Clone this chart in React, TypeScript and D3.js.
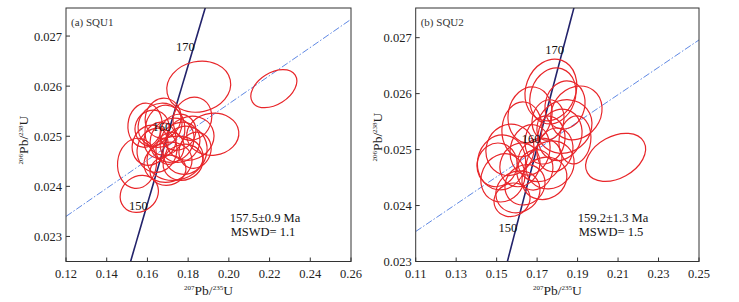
import * as d3 from "d3";

// decay constants (per year)
const L238 = 1.55125e-10;
const L235 = 9.8485e-10;

// analyses: [207Pb/235U, 206Pb/238U, sx, sy, rho]
const squ1Spots = [
  [0.1852, 0.02599, 0.0157, 0.00051, 0.1],
  [0.2221, 0.02595, 0.0113, 0.00038, 0.4],
  [0.156, 0.02385, 0.0094, 0.00037, 0.15],
  [0.1549, 0.02446, 0.0096, 0.0005, 0.05],
  [0.1921, 0.02504, 0.0128, 0.00042, 0.05],
  [0.1821, 0.02535, 0.0095, 0.00043, 0.1],
  [0.1662, 0.02522, 0.0108, 0.00044, 0.1],
  [0.1686, 0.02512, 0.0098, 0.0005, 0.05],
  [0.1721, 0.02492, 0.0108, 0.00044, 0.1],
  [0.176, 0.02488, 0.0098, 0.0004, 0.1],
  [0.1647, 0.02472, 0.0098, 0.00044, 0.05],
  [0.1736, 0.02456, 0.0138, 0.00044, 0.08],
  [0.1701, 0.02448, 0.0118, 0.0004, 0.1],
  [0.1785, 0.02472, 0.0108, 0.00048, 0.05],
  [0.1613, 0.02482, 0.0088, 0.0004, 0.1],
  [0.1809, 0.02496, 0.0118, 0.00044, 0.1],
  [0.1677, 0.02536, 0.0088, 0.0004, 0.05],
  [0.175, 0.02508, 0.0088, 0.00036, 0.1],
  [0.1662, 0.02492, 0.0079, 0.00036, 0.05],
  [0.1775, 0.02448, 0.0098, 0.00036, 0.1],
  [0.1711, 0.02476, 0.0069, 0.00032, 0.1],
  [0.1834, 0.02472, 0.0079, 0.00036, 0.1],
  [0.1623, 0.02516, 0.0084, 0.00036, 0.05],
  [0.1701, 0.02432, 0.0088, 0.0003, 0.1],
  [0.1588, 0.02522, 0.0084, 0.00044, 0.05],
];

const squ2Spots = [
  [0.1768, 0.026066, 0.0128, 0.00055, 0.15],
  [0.1778, 0.025959, 0.0114, 0.0005, 0.15],
  [0.2088, 0.024861, 0.0148, 0.00043, 0.35],
  [0.1524, 0.024771, 0.0119, 0.00049, 0.05],
  [0.1894, 0.025655, 0.0127, 0.00048, 0.15],
  [0.1835, 0.025411, 0.0136, 0.00048, 0.1],
  [0.1625, 0.025361, 0.0099, 0.00049, 0.05],
  [0.1605, 0.024245, 0.0109, 0.000375, 0.1],
  [0.1531, 0.024495, 0.0109, 0.00043, 0.1],
  [0.1736, 0.024486, 0.0111, 0.00038, 0.1],
  [0.1714, 0.024816, 0.0109, 0.00039, 0.1],
  [0.1739, 0.025173, 0.0099, 0.00043, 0.1],
  [0.1665, 0.024995, 0.0099, 0.00045, 0.1],
  [0.1788, 0.024995, 0.0089, 0.00039, 0.1],
  [0.1615, 0.024727, 0.0099, 0.00039, 0.1],
  [0.1813, 0.025263, 0.0109, 0.00046, 0.1],
  [0.1689, 0.024638, 0.0089, 0.00036, 0.1],
  [0.1754, 0.02553, 0.0079, 0.00036, 0.1],
  [0.1576, 0.024102, 0.0089, 0.0003, 0.1],
  [0.1502, 0.024727, 0.0099, 0.00039, 0.05],
  [0.1665, 0.02562, 0.0109, 0.0005, 0.1],
  [0.1838, 0.025798, 0.0099, 0.00043, 0.1],
  [0.1566, 0.024995, 0.0119, 0.00046, 0.05],
  [0.1764, 0.024727, 0.0119, 0.00043, 0.1],
  [0.164, 0.02437, 0.0099, 0.00036, 0.1],
  [0.1887, 0.025173, 0.0079, 0.00043, 0.1],
];

// discordia end points
const squ1Line = [[0.12, 0.0234], [0.26, 0.027334]];
const squ2Line = [[0.11, 0.023536], [0.25, 0.026959]];

const ageLabels = [150, 160, 170];
const squ1XTicks = [0.12, 0.14, 0.16, 0.18, 0.2, 0.22, 0.24, 0.26];
const squ2XTicks = [0.11, 0.13, 0.15, 0.17, 0.19, 0.21, 0.23, 0.25];
const yTicks = [0.023, 0.024, 0.025, 0.026, 0.027];

const font = "'Liberation Serif', 'Times New Roman', serif";

const conc = (t: number) => [Math.exp(L235 * t * 1e6) - 1, Math.exp(L238 * t * 1e6) - 1];

function Panel({ id, spots, line, xTicks, xDom, yDom, left, right, title, age, mswd, yTitleX, yTitleY }: any) {
  const top = 8;
  const bottom = 261.5;
  const x = d3.scaleLinear().domain(xDom).range([left, right]);
  const y = d3.scaleLinear().domain(yDom).range([bottom, top]);
  const kx = (right - left) / (xDom[1] - xDom[0]);
  const ky = (bottom - top) / (yDom[1] - yDom[0]);

  const ages = d3.range(130, 190, 0.5);
  const curve = d3
    .line<number>()
    .x((t) => x(conc(t)[0]))
    .y((t) => y(conc(t)[1]))(ages);

  const ellipses = spots.map((s: number[]) => {
    const a = kx * s[2];
    const b = ky * s[3];
    const c = -s[4] * a * b;
    const th = 0.5 * Math.atan2(2 * c, a * a - b * b);
    const m = (a * a + b * b) / 2;
    const r = Math.sqrt(((a * a - b * b) / 2) ** 2 + c * c);
    return { cx: x(s[0]), cy: y(s[1]), rx: Math.sqrt(m + r), ry: Math.sqrt(m - r), deg: (th * 180) / Math.PI };
  });

  const midX = (left + right) / 2;
  const yTickList = yTicks.filter((v) => v >= yDom[0] - 1e-9);

  return (
    <g fontFamily={font}>
      <defs>
        <clipPath id={id}>
          <rect x={left} y={top} width={right - left} height={bottom - top} />
        </clipPath>
      </defs>
      <g clipPath={`url(#${id})`}>
        <line
          x1={x(line[0][0])}
          y1={y(line[0][1])}
          x2={x(line[1][0])}
          y2={y(line[1][1])}
          stroke="#4d7ae0"
          strokeWidth={0.9}
          strokeDasharray="7,2,1.5,2"
        />
        <path d={curve || ""} fill="none" stroke="#23236b" strokeWidth={1.6} />
        {ellipses.map((e: any, i: number) => (
          <ellipse
            key={i}
            cx={e.cx}
            cy={e.cy}
            rx={e.rx}
            ry={e.ry}
            transform={`rotate(${e.deg},${e.cx},${e.cy})`}
            fill="none"
            stroke="#e8262a"
            strokeWidth={1.2}
          />
        ))}
      </g>
      {ageLabels.map((t) => (
        <text key={t} x={x(conc(t)[0]) + 2} y={y(conc(t)[1]) + 1} textAnchor="end" fontSize={12.5} fill="#111">
          {t}
        </text>
      ))}
      <rect x={left} y={top} width={right - left} height={bottom - top} fill="none" stroke="#333" strokeWidth={1} />
      {xTicks.map((v: number) => (
        <g key={v}>
          <line x1={x(v)} x2={x(v)} y1={bottom} y2={bottom - 4} stroke="#333" />
          <text x={x(v)} y={bottom + 16} textAnchor="middle" fontSize={12.5} fill="#222">
            {v.toFixed(2)}
          </text>
        </g>
      ))}
      {yTickList.map((v: number) => (
        <g key={v}>
          <line x1={left} x2={left + 4} y1={y(v)} y2={y(v)} stroke="#333" />
          <text x={left - 4} y={y(v) + 4.5} textAnchor="end" fontSize={12.5} fill="#222">
            {v.toFixed(3)}
          </text>
        </g>
      ))}
      <text x={left + 5} y={top + 18} fontSize={11} fill="#333">
        {title}
      </text>
      <text x={right - 86} y={221.5} textAnchor="middle" fontSize={12.5} fill="#111">
        {age}
      </text>
      <text x={right - 88} y={235.5} textAnchor="middle" fontSize={12.5} fill="#111">
        {mswd}
      </text>
      <text x={midX} y={295} textAnchor="middle" fontSize={13.5} fill="#222">
        <tspan fontSize={7} dy={-5}>207</tspan>
        <tspan dy={5}>Pb/</tspan>
        <tspan fontSize={7} dy={-5}>235</tspan>
        <tspan dy={5}>U</tspan>
      </text>
      <text
        transform={`translate(${yTitleX},${yTitleY}) rotate(-90)`}
        textAnchor="middle"
        fontSize={13.5}
        fill="#222"
      >
        <tspan fontSize={7} dy={-5}>206</tspan>
        <tspan dy={5}>Pb/</tspan>
        <tspan fontSize={7} dy={-5}>238</tspan>
        <tspan dy={5}>U</tspan>
      </text>
    </g>
  );
}

export default function App() {
  return (
    <svg width={739} height={302} style={{ position: "absolute", left: 0, top: 0, background: "#fff" }}>
      <Panel
        id="c1"
        spots={squ1Spots}
        line={squ1Line}
        xTicks={squ1XTicks}
        xDom={[0.12, 0.26]}
        yDom={[0.0225, 0.02756]}
        left={66}
        right={351}
        title="(a) SQU1"
        age="157.5±0.9 Ma"
        mswd="MSWD= 1.1"
        yTitleX={28}
        yTitleY={140}
      />
      <Panel
        id="c2"
        spots={squ2Spots}
        line={squ2Line}
        xTicks={squ2XTicks}
        xDom={[0.11, 0.25]}
        yDom={[0.023, 0.02753]}
        left={415.7}
        right={699}
        title="(b) SQU2"
        age="159.2±1.3 Ma"
        mswd="MSWD= 1.5"
        yTitleX={382}
        yTitleY={137}
      />
    </svg>
  );
}
